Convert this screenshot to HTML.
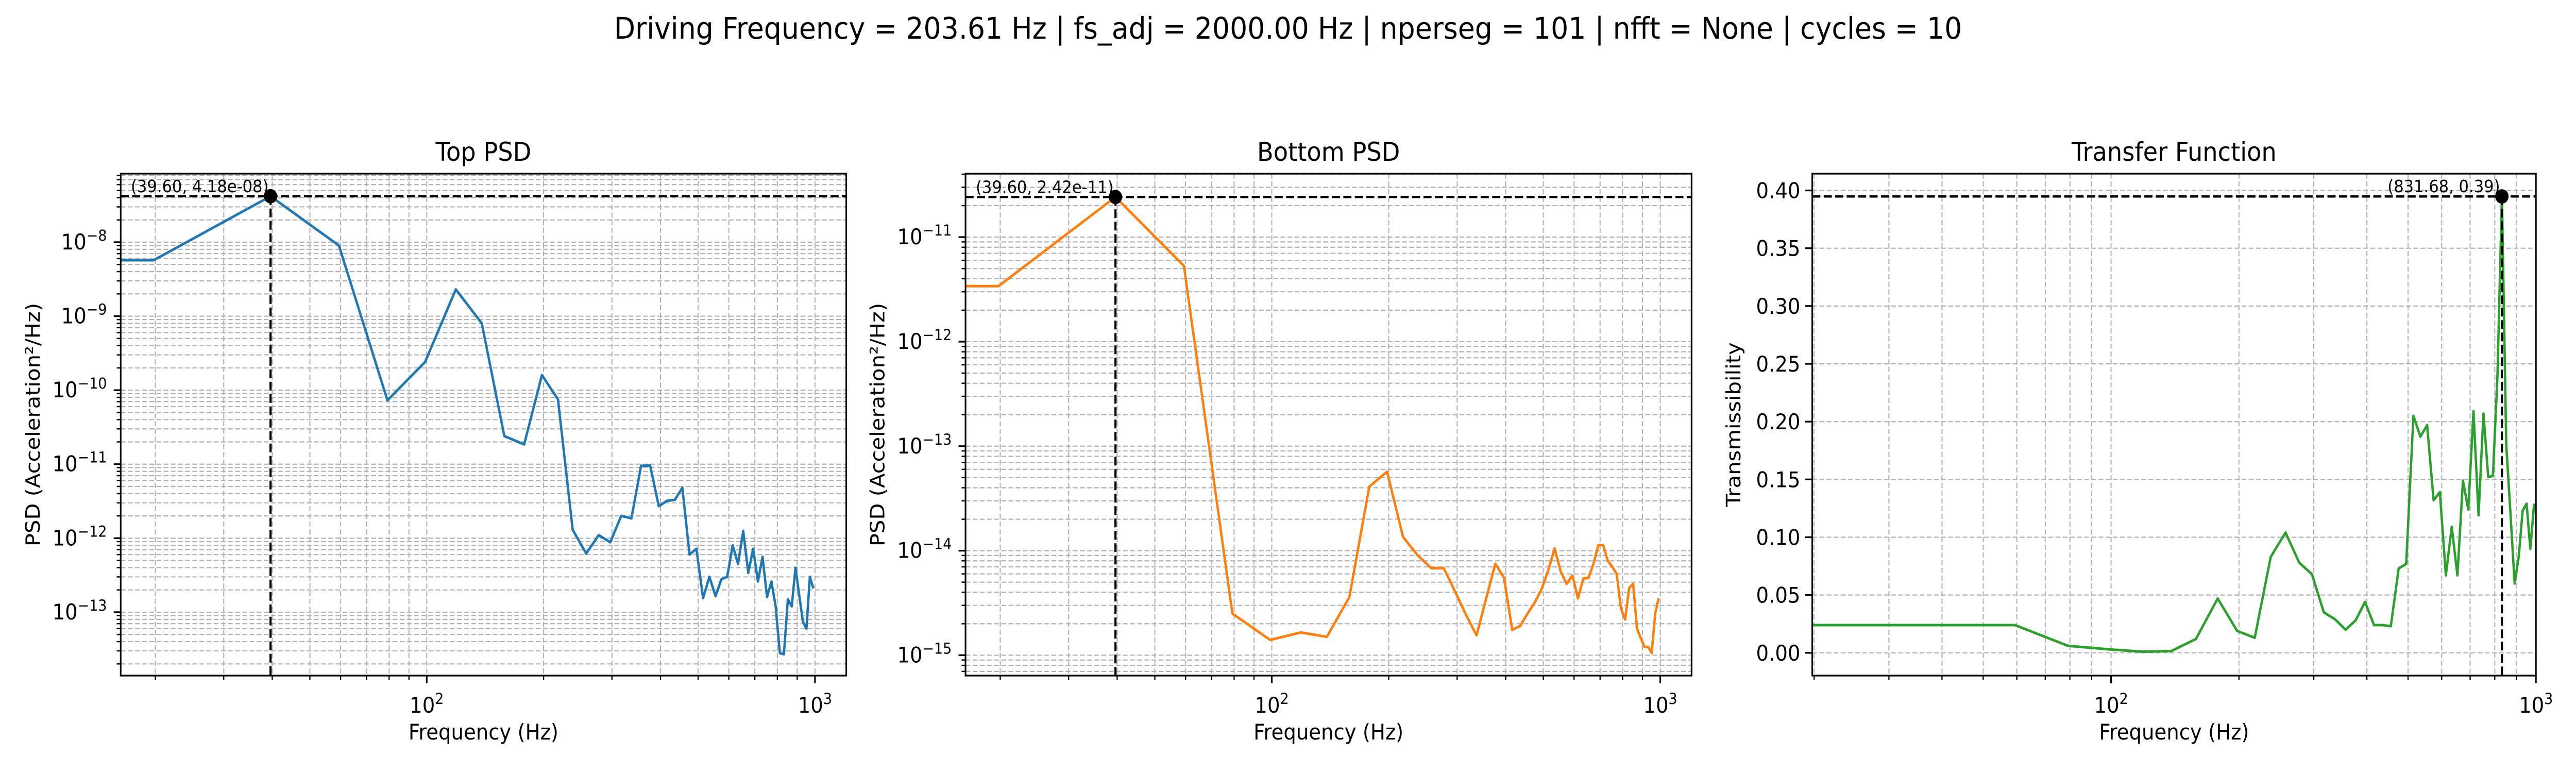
<!DOCTYPE html>
<html><head><meta charset="utf-8"><style>
html,body{margin:0;padding:0;background:#fff;overflow:hidden;width:100%;height:100%;}
svg{display:block;font-family:"DejaVu Sans","Liberation Sans",sans-serif;width:100vw;height:100vh;}
</style></head><body>
<svg id="fig" viewBox="0 0 5400 1500" preserveAspectRatio="none" xmlns="http://www.w3.org/2000/svg">
<rect width="5400" height="1500" fill="#fff"/>
<text x="2700" y="75" font-size="58" text-anchor="middle">Driving Frequency = 203.61 Hz | fs_adj = 2000.00 Hz | nperseg = 101 | nfft = None | cycles = 10</text>
</svg>
<script>
const freqs = [0,19.80,39.60,59.41,79.21,99.01,118.81,138.61,158.42,178.22,198.02,217.82,237.62,257.43,277.23,297.03,316.83,336.63,356.44,376.24,396.04,415.84,435.64,455.45,475.25,495.05,514.85,534.65,554.46,574.26,594.06,613.86,633.66,653.47,673.27,693.07,712.87,732.67,752.48,772.28,792.08,811.88,831.68,851.49,871.29,891.09,910.89,930.69,950.50,970.30,990.10];
const topPsd = [5.7e-9,5.7e-9,4.18e-8,9e-9,7.3e-11,2.4e-10,2.3e-9,8e-10,2.4e-11,1.85e-11,1.6e-10,7.5e-11,1.3e-12,6.2e-13,1.1e-12,8.8e-13,2e-12,1.85e-12,9.5e-12,9.6e-12,2.7e-12,3.2e-12,3.3e-12,4.8e-12,6e-13,7.2e-13,1.55e-13,3e-13,1.65e-13,2.8e-13,3e-13,8e-13,4.5e-13,1.25e-12,3.4e-13,7.2e-13,2.6e-13,5.6e-13,1.6e-13,2.6e-13,1.2e-13,2.8e-14,2.7e-14,1.5e-13,1.2e-13,4e-13,1.7e-13,7.5e-14,6e-14,3e-13,2.1e-13];
const bottomPsd = [3.4e-12,3.4e-12,2.42e-11,5.3e-12,2.5e-15,1.4e-15,1.65e-15,1.5e-15,3.6e-15,4.1e-14,5.7e-14,1.35e-14,9e-15,6.8e-15,6.8e-15,4e-15,2.4e-15,1.55e-15,3.5e-15,7.5e-15,5.5e-15,1.75e-15,1.9e-15,2.5e-15,3.2e-15,4.3e-15,6.5e-15,1.05e-14,6.3e-15,4.8e-15,5.8e-15,3.5e-15,5.4e-15,5.5e-15,7.5e-15,1.13e-14,1.13e-14,8e-15,7e-15,6e-15,2.8e-15,2.2e-15,4.4e-15,4.8e-15,1.8e-15,1.45e-15,1.2e-15,1.2e-15,1.05e-15,2.5e-15,3.5e-15];
const transfer = [null,0.024,0.024,0.024,0.006,0.003,0.001,0.0015,0.012,0.047,0.019,0.013,0.083,0.104,0.078,0.068,0.035,0.029,0.020,0.028,0.044,0.024,0.024,0.023,0.073,0.077,0.205,0.187,0.197,0.132,0.139,0.067,0.109,0.067,0.149,0.124,0.209,0.119,0.207,0.152,0.153,0.24,0.3948,0.18,0.12,0.06,0.083,0.123,0.129,0.09,0.129];
const linTicks = [0,0.05,0.10,0.15,0.20,0.25,0.30,0.35,0.40];
const panelTitles = ["Top PSD","Bottom PSD","Transfer Function"];
const yTitles = ["PSD (Acceleration²/Hz)","PSD (Acceleration²/Hz)","Transmissibility"];

const NS="http://www.w3.org/2000/svg";
const svg=document.getElementById('fig');
function mk(tag,attrs,parent){const e=document.createElementNS(NS,tag);for(const k in attrs)e.setAttribute(k,attrs[k]);(parent||svg).appendChild(e);return e;}

const panels=[
 {L:253,R:1774,T:337,B:1311,xl:1.2117,xh:3.0806,ylog:true,yl:-13.857,yh:-7.074,data:topPsd,color:"#1f77b4",yLabX:69,name:"top-psd"},
 {L:2024,R:3546,T:337,B:1311,xl:1.2117,xh:3.0806,ylog:true,yl:-15.195,yh:-10.393,data:bottomPsd,color:"#ff7f0e",yLabX:1840,name:"bottom-psd"},
 {L:3799,R:5316,T:337,B:1311,xl:1.2967,xh:3.0,ylog:false,yl:-0.0197,yh:0.4145,data:transfer,color:"#2ca02c",yLabX:3634,name:"transfer-function"}
];

panels.forEach((p,pi)=>{
 const g=mk('g',{});
 
 
 const X=f=>p.L+(Math.log10(f)-p.xl)/(p.xh-p.xl)*(p.R-p.L);
 const Y=v=>{const t=p.ylog?Math.log10(v):v;return p.B-(t-p.yl)/(p.yh-p.yl)*(p.B-p.T);};
 const grid={stroke:"#b0b0b0","stroke-width":2.2,"stroke-dasharray":"10,5"};
 for(let d=1;d<=3;d++)for(let m=1;m<=9;m++){
  const f=m*Math.pow(10,d);const lf=Math.log10(f);
  if(lf<p.xl-1e-6||lf>p.xh+1e-6)continue;
  const x=X(f);
  const gl=mk('line',Object.assign({x1:x,x2:x,y1:p.T,y2:p.B},grid),g);
  
  
  const tl=m===1?14.6:8.3;
  mk('line',{x1:x,x2:x,y1:p.B,y2:p.B+tl,stroke:"#000","stroke-width":m===1?3.3:2.5},g);
  if(m===1){
   const t=mk('text',{x:x,y:p.B+72,"font-size":41.7,"text-anchor":"middle"},g);
   
   
   t.innerHTML='10<tspan dy="-17" font-size="29">'+d+'</tspan>';
  }
 }
 if(p.ylog){
  for(let d=Math.floor(p.yl);d<=Math.ceil(p.yh);d++)for(let m=1;m<=9;m++){
   const v=m*Math.pow(10,d);const lv=Math.log10(v);
   if(lv<p.yl||lv>p.yh)continue;
   const y=Y(v);
   const gl=mk('line',Object.assign({x1:p.L,x2:p.R,y1:y,y2:y},grid),g);
   
   
   mk('line',{x1:p.L,x2:p.L-(m===1?14.6:8.3),y1:y,y2:y,stroke:"#000","stroke-width":m===1?3.3:2.5},g);
   if(m===1){
    const t=mk('text',{x:p.L-29,y:y+14,"font-size":41.7,"text-anchor":"end"},g);
    
    
    t.innerHTML='10<tspan dy="-17" font-size="29">\u2212'+(-d)+'</tspan>';
   }
  }
 } else {
  linTicks.forEach(v=>{
   const y=Y(v);
   const gl=mk('line',Object.assign({x1:p.L,x2:p.R,y1:y,y2:y},grid),g);
   
   
   mk('line',{x1:p.L,x2:p.L-14.6,y1:y,y2:y,stroke:"#000","stroke-width":3.3},g);
   const t=mk('text',{x:p.L-25,y:y+15,"font-size":41.7,"text-anchor":"end"},g);
   
   
   t.textContent=v.toFixed(2);
  });
 }
 const cp=mk('clipPath',{id:'clip'+pi},g);
 mk('rect',{x:p.L,y:p.T,width:p.R-p.L,height:p.B-p.T},cp);
 let pts=[];
 p.data.forEach((v,i)=>{
  if(v===null)return;
  const f=freqs[i];
  const x=f<=0?p.L-200:X(f);
  pts.push(x.toFixed(1)+','+Y(v).toFixed(1));
 });
 const line=mk('polyline',{points:pts.join(' '),fill:"none",stroke:p.color,"stroke-width":5,"stroke-linejoin":"round","clip-path":"url(#clip"+pi+")"},g);
 
 
 let bi=-1,bv=-Infinity;
 p.data.forEach((v,i)=>{if(v!==null&&freqs[i]>0&&v>bv){bv=v;bi=i;}});
 const px=X(freqs[bi]),py=Y(bv);
 const h=mk('line',{x1:p.L,x2:p.R,y1:py,y2:py,stroke:"#000","stroke-width":4.5,"stroke-dasharray":"17,7"},g);
 
 
 const vl=mk('line',{x1:px,x2:px,y1:py,y2:p.B,stroke:"#000","stroke-width":4.5,"stroke-dasharray":"17,7"},g);
 
 
 const dot=mk('circle',{cx:px,cy:py,r:14,fill:"#000"},g);
 
 
 let lbl;
 if(p.ylog){const s=bv.toExponential(2).replace(/e([+-])(\d)$/,'e$10$2');lbl='('+freqs[bi].toFixed(2)+', '+s+')';}
 else lbl='('+freqs[bi].toFixed(2)+', '+bv.toFixed(2)+')';
 const at=mk('text',{x:px-4,y:py-8,"font-size":33,"text-anchor":"end"},g);
 
 
 at.textContent=lbl;
 const sp=mk('rect',{x:p.L,y:p.T,width:p.R-p.L,height:p.B-p.T,fill:"none",stroke:"#000","stroke-width":3.3},g);
 
 
 const tt=mk('text',{x:(p.L+p.R)/2,y:312,"font-size":50,"text-anchor":"middle"},g);
 
 
 tt.textContent=panelTitles[pi];
 const xt=mk('text',{x:(p.L+p.R)/2,y:1435,"font-size":41.7,"text-anchor":"middle"},g);
 
 
 xt.textContent="Frequency (Hz)";
 const cy=(p.T+p.B)/2;
 const yt=mk('text',{x:p.yLabX,y:cy,"font-size":41.7,"text-anchor":"middle",transform:"rotate(-90 "+p.yLabX+" "+cy+")",dy:"14"},g);
 
 
 yt.textContent=yTitles[pi];
});
</script>
</body></html>
